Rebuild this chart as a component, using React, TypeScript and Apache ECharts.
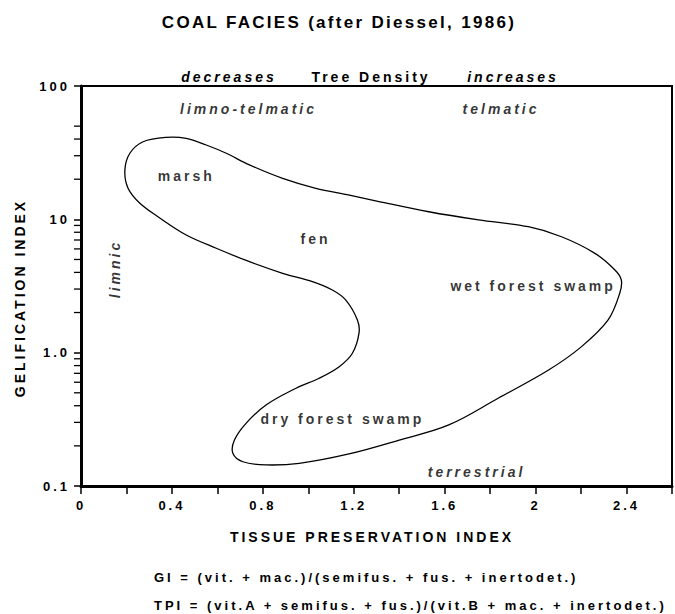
import React, { useEffect, useRef } from "react";
import * as echarts from "echarts";

// Outline of the coal-facies field (TPI, GI), traced clockwise from the top of the marsh lobe
const outlineTPI = [
  0.376, 0.463, 0.551, 0.639, 0.741, 0.887, 1.033, 1.181, 1.311, 1.53, 1.749, 1.968, 2.114,
  2.261, 2.349, 2.377, 2.37, 2.319, 2.202, 2.057, 1.837, 1.618, 1.4, 1.179, 0.96, 0.814,
  0.712, 0.668, 0.675, 0.726, 0.814, 0.946, 1.048, 1.136, 1.194, 1.223, 1.216, 1.165, 1.106,
  1.018, 0.887, 0.741, 0.595, 0.463, 0.348, 0.259, 0.207, 0.193, 0.215, 0.273,
];
const outlineGI = [
  41.2, 40.5, 36.1, 31.3, 25.6, 20.3, 17.1, 15.2, 13.6, 11.4, 9.9, 8.8, 7.4,
  5.56, 4.17, 3.51, 2.79, 1.76, 1.11, 0.741, 0.457, 0.287, 0.221, 0.174, 0.148, 0.144,
  0.152, 0.176, 0.221, 0.295, 0.405, 0.541, 0.643, 0.785, 0.99, 1.4, 1.76, 2.48, 2.95,
  3.41, 3.94, 4.81, 6.07, 7.63, 10.2, 13.2, 17.1, 23.4, 31.3, 38.2,
];

// Zone labels placed in data coordinates
const zoneNames = ["limno-telmatic", "telmatic", "marsh", "fen", "wet forest swamp", "dry forest swamp", "terrestrial", "limnic"];
const zoneTPI = [0.737, 1.848, 0.463, 1.032, 1.989, 1.15, 1.74, 0.149];
const zoneGI = [67.2, 67.2, 21.2, 7.12, 3.18, 0.316, 0.127, 4.24];
const zoneItalic = [true, true, false, false, false, false, true, true];

// Minor ticks of the logarithmic GI axis
const giMinorTicks = [0.2, 0.3, 0.4, 0.5, 0.6, 0.7, 0.8, 0.9, 2, 3, 4, 5, 6, 7, 8, 9, 20, 30, 40, 50];

const titleText = "COAL FACIES (after Diessel, 1986)";
const topLabels = ["decreases", "Tree Density", "increases"];
const xName = "TISSUE PRESERVATION INDEX";
const yName = "GELIFICATION INDEX";
const formulaGI = "GI = (vit. + mac.)/(semifus. + fus. + inertodet.)";
const formulaTPI = "TPI = (vit.A + semifus. + fus.)/(vit.B + mac. + inertodet.)";

const FONT = "'Liberation Sans', Arial, Helvetica, sans-serif";
const INK = "#000000";

export default function App() {
  const ref = useRef<HTMLDivElement>(null);

  useEffect(() => {
    if (!ref.current) return;
    const chart = echarts.init(ref.current, null, { renderer: "svg" });

    const txt = (text: string, x: number, y: number, opts: any = {}) => ({
      type: "text",
      x,
      y,
      rotation: opts.rotation || 0,
      silent: true,
      style: {
        text,
        fill: INK,
        font: `${opts.italic ? "italic " : ""}bold ${opts.size || 14}px ${FONT}`,
        align: opts.align || "center",
        verticalAlign: "middle",
      },
    });

    const option: any = {
      animation: false,
      grid: {
        left: 81,
        top: 86,
        right: 1,
        bottom: 128,
        show: true,
        borderColor: INK,
        borderWidth: 2,
      },
      xAxis: {
        type: "value",
        min: 0,
        max: 2.6,
        interval: 0.2,
        splitLine: { show: false },
        axisLine: { show: true, lineStyle: { color: INK, width: 3 } },
        axisTick: { show: true, inside: false, length: 8, lineStyle: { color: INK, width: 1.5 } },
        axisLabel: {
          margin: 13,
          color: INK,
          fontFamily: FONT,
          fontWeight: "bold",
          fontSize: 13,
          formatter: (v: number) => {
            const k = Math.round(v / 0.2);
            if (k % 2 !== 0) return "";
            return String(Math.round(v * 10) / 10);
          },
        },
      },
      yAxis: {
        type: "log",
        logBase: 10,
        min: 0.1,
        max: 100,
        splitLine: { show: false },
        axisLine: { show: true, lineStyle: { color: INK, width: 3 } },
        axisTick: { show: true, inside: false, length: 7, lineStyle: { color: INK, width: 1.5 } },
        axisLabel: {
          margin: 11,
          color: INK,
          fontFamily: FONT,
          fontWeight: "bold",
          fontSize: 13,
          formatter: (v: number) => {
            if (Math.abs(v - 1) < 1e-6) return "1.0";
            if (v < 0.5) return "0.1";
            return String(Math.round(v));
          },
        },
      },
      series: [
        {
          type: "custom",
          coordinateSystem: "cartesian2d",
          silent: true,
          data: [[outlineTPI[0], outlineGI[0]]],
          renderItem: (params: any, api: any) => {
            const pts = outlineTPI.map((x, i) => api.coord([x, outlineGI[i]]));
            return {
              type: "polygon",
              shape: { points: pts, smooth: 0.35 },
              style: { fill: "none", stroke: INK, lineWidth: 1.3 },
            };
          },
          z: 3,
        },
        {
          type: "custom",
          coordinateSystem: "cartesian2d",
          silent: true,
          clip: false,
          data: giMinorTicks.map((v) => [0, v]),
          renderItem: (params: any, api: any) => {
            const p = api.coord([api.value(0), api.value(1)]);
            return {
              type: "line",
              shape: { x1: p[0] - 7, y1: p[1], x2: p[0], y2: p[1] },
              style: { stroke: INK, lineWidth: 1.3 },
            };
          },
          z: 4,
        },
        {
          type: "scatter",
          silent: true,
          symbolSize: 1,
          itemStyle: { color: "transparent" },
          data: zoneNames.map((name, i) => ({
            value: [zoneTPI[i], zoneGI[i]],
            name,
            label: {
              show: true,
              position: "inside",
              formatter: name,
              rotate: name === "limnic" ? 90 : 0,
              color: INK,
              fontFamily: FONT,
              fontWeight: "bold",
              fontStyle: zoneItalic[i] ? "italic" : "normal",
              fontSize: 14,
            },
          })),
          z: 5,
        },
      ],
      graphic: [
        txt(titleText, 339, 22, { size: 17 }),
        txt(topLabels[0], 229, 77, { italic: true }),
        txt(topLabels[1], 371, 77),
        txt(topLabels[2], 513, 77, { italic: true }),
        txt(yName, 20, 298, { rotation: Math.PI / 2 }),
        txt(xName, 372, 537),
        txt(formulaGI, 154, 577, { align: "left", size: 13 }),
        txt(formulaTPI, 154, 605, { align: "left", size: 13 }),
      ],
    };

    chart.setOption(option);

    const applySpacing = () => {
      const root = ref.current;
      if (!root) return;
      root.querySelectorAll("text").forEach((t: any) => {
        const fs = parseFloat(getComputedStyle(t).fontSize || "14");
        t.style.letterSpacing = fs >= 16 ? "2.3px" : "3px";
      });
    };
    chart.on("finished", applySpacing);
    applySpacing();
    const timer = setTimeout(applySpacing, 0);

    return () => {
      clearTimeout(timer);
      chart.dispose();
    };
  }, []);

  return (
    <div
      ref={ref}
      style={{ position: "absolute", left: 0, top: 0, width: 675, height: 614, background: "#fff" }}
    />
  );
}
